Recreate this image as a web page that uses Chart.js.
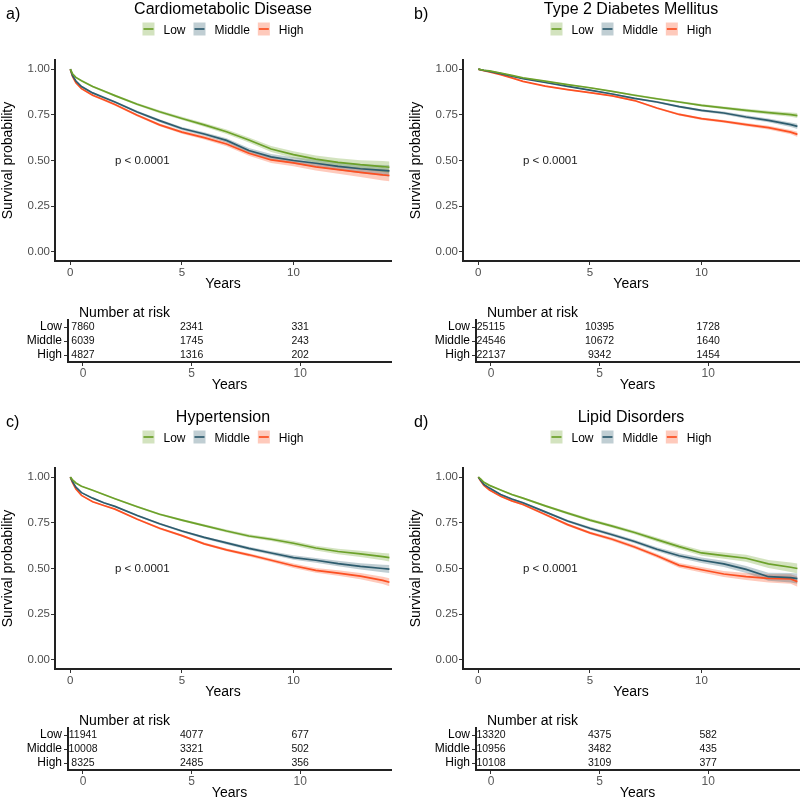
<!DOCTYPE html>
<html>
<head>
<meta charset="utf-8">
<script src="https://cdn.jsdelivr.net/npm/chart.js@4.4.0/dist/chart.umd.min.js"></script>
<style>
    html, body { margin: 0; padding: 0; background: #fff; overflow: hidden; }
    #contenedor { position: relative; width: 800px; height: 799px; overflow: hidden; }
    canvas { position: absolute; }
</style>
</head>
<body>
<div id="contenedor"></div>
<script>
// DATOS
const grupos = ['Low', 'Middle', 'High']
const colores = ['#6ca12a', '#2d5c6e', '#fc5022']
const tiempos = [0, 0.1, 0.25, 0.5, 1, 1.5, 2, 3, 4, 5, 6, 7, 8, 9, 10, 11, 12, 13, 14, 14.3]
const ticksX = [0, 5, 10]
const ticksY = [0, 0.25, 0.5, 0.75, 1]
const tiemposRiesgo = [0, 5, 10]

// a) Cardiometabolic Disease
const supBajoA = [1, 0.975, 0.955, 0.937, 0.905, 0.88, 0.855, 0.808, 0.767, 0.73, 0.695, 0.657, 0.612, 0.563, 0.532, 0.508, 0.49, 0.477, 0.467, 0.463]
const supMedioA = [1, 0.965, 0.935, 0.905, 0.87, 0.845, 0.82, 0.765, 0.718, 0.675, 0.645, 0.61, 0.555, 0.52, 0.5, 0.485, 0.468, 0.455, 0.446, 0.443]
const supAltoA = [1, 0.96, 0.925, 0.893, 0.857, 0.832, 0.806, 0.748, 0.695, 0.655, 0.625, 0.59, 0.54, 0.503, 0.487, 0.465, 0.45, 0.435, 0.421, 0.418]
const icA = [0, 0.003, 0.004, 0.005, 0.005, 0.006, 0.006, 0.007, 0.008, 0.009, 0.01, 0.012, 0.014, 0.016, 0.018, 0.02, 0.022, 0.025, 0.03, 0.032]
const riesgoBajoA = [7860, 2341, 331]
const riesgoMedioA = [6039, 1745, 243]
const riesgoAltoA = [4827, 1316, 202]

// b) Type 2 Diabetes Mellitus
const supBajoB = [1, 0.997, 0.994, 0.99, 0.979, 0.966, 0.953, 0.934, 0.915, 0.898, 0.878, 0.857, 0.838, 0.82, 0.802, 0.788, 0.774, 0.762, 0.751, 0.746]
const supMedioB = [1, 0.997, 0.993, 0.988, 0.975, 0.962, 0.948, 0.927, 0.906, 0.885, 0.864, 0.84, 0.82, 0.795, 0.774, 0.76, 0.738, 0.72, 0.696, 0.687]
const supAltoB = [1, 0.996, 0.991, 0.985, 0.97, 0.952, 0.933, 0.907, 0.888, 0.871, 0.854, 0.828, 0.787, 0.752, 0.729, 0.714, 0.696, 0.68, 0.655, 0.643]
const icB = [0, 0.001, 0.001, 0.001, 0.002, 0.002, 0.002, 0.003, 0.003, 0.004, 0.004, 0.005, 0.005, 0.006, 0.007, 0.008, 0.009, 0.01, 0.012, 0.014]
const riesgoBajoB = [25115, 10395, 1728]
const riesgoMedioB = [24546, 10672, 1640]
const riesgoAltoB = [22137, 9342, 1454]

// c) Hypertension
const supBajoC = [1, 0.985, 0.968, 0.95, 0.928, 0.905, 0.882, 0.838, 0.797, 0.765, 0.735, 0.705, 0.678, 0.66, 0.638, 0.612, 0.593, 0.58, 0.565, 0.56]
const supMedioC = [1, 0.975, 0.945, 0.915, 0.885, 0.86, 0.84, 0.79, 0.745, 0.705, 0.67, 0.64, 0.61, 0.585, 0.56, 0.545, 0.527, 0.512, 0.5, 0.497]
const supAltoC = [1, 0.97, 0.935, 0.9, 0.865, 0.845, 0.825, 0.77, 0.72, 0.68, 0.635, 0.602, 0.575, 0.545, 0.515, 0.49, 0.475, 0.458, 0.435, 0.425]
const icC = [0, 0.002, 0.003, 0.003, 0.004, 0.004, 0.004, 0.005, 0.006, 0.006, 0.007, 0.008, 0.009, 0.01, 0.012, 0.013, 0.015, 0.017, 0.02, 0.022]
const riesgoBajoC = [11941, 4077, 677]
const riesgoMedioC = [10008, 3321, 502]
const riesgoAltoC = [8325, 2485, 356]

// d) Lipid Disorders
const supBajoD = [1, 0.99, 0.972, 0.955, 0.93, 0.905, 0.885, 0.843, 0.803, 0.765, 0.732, 0.697, 0.658, 0.62, 0.585, 0.57, 0.556, 0.525, 0.507, 0.5]
const supMedioD = [1, 0.985, 0.96, 0.94, 0.905, 0.88, 0.86, 0.81, 0.76, 0.72, 0.685, 0.648, 0.605, 0.57, 0.545, 0.525, 0.495, 0.455, 0.45, 0.445]
const supAltoD = [1, 0.98, 0.955, 0.93, 0.895, 0.87, 0.85, 0.795, 0.74, 0.695, 0.66, 0.618, 0.57, 0.517, 0.493, 0.47, 0.456, 0.446, 0.443, 0.428]
const icD = [0, 0.002, 0.003, 0.004, 0.004, 0.005, 0.005, 0.006, 0.007, 0.008, 0.009, 0.01, 0.011, 0.013, 0.015, 0.017, 0.019, 0.022, 0.026, 0.028]
const riesgoBajoD = [13320, 4375, 582]
const riesgoMedioD = [10956, 3482, 435]
const riesgoAltoD = [10108, 3109, 377]

const textoP = 'p < 0.0001'
const coordP = [2, 0.5]

// FUNCIONES
const fuente = '"Liberation Sans", Arial, Helvetica, sans-serif'
Chart.defaults.font.family = fuente

function conAlfa(hex, alfa) {
    const r = parseInt(hex.slice(1, 3), 16)
    const g = parseInt(hex.slice(3, 5), 16)
    const b = parseInt(hex.slice(5, 7), 16)
    return `rgba(${r}, ${g}, ${b}, ${alfa})`
}

function crearCanvas(izq, arriba, ancho, alto) {
    const c = document.createElement('canvas')
    c.width = ancho
    c.height = alto
    c.style.left = izq + 'px'
    c.style.top = arriba + 'px'
    c.style.width = ancho + 'px'
    c.style.height = alto + 'px'
    document.getElementById('contenedor').appendChild(c)
    return c
}

// titulo, letra, leyenda y valor p (dibujados a mano)
const decoracionPanel = {
    id: 'decoracionPanel',
    afterDraw(chart, args, opts) {
        const ctx = chart.ctx
        const area = chart.chartArea
        const centro = (area.left + area.right) / 2
        ctx.save()
        ctx.fillStyle = '#000'
        ctx.textBaseline = 'alphabetic'
        ctx.font = `16px ${fuente}`
        ctx.textAlign = 'left'
        ctx.fillText(opts.letra, 6, 19)
        ctx.textAlign = 'center'
        ctx.fillText(opts.titulo, centro, 13.5)

        ctx.font = `12px ${fuente}`
        const anchos = grupos.map(g => ctx.measureText(g).width)
        const total = anchos.reduce((acum, w) => acum + 12 + 9 + w, 0) + 8 * (grupos.length - 1)
        let x = centro - total / 2
        grupos.forEach((g, i) => {
            ctx.fillStyle = conAlfa(colores[i], 0.3)
            ctx.fillRect(x, 22.5, 12, 13)
            ctx.strokeStyle = colores[i]
            ctx.lineWidth = 1.7
            ctx.beginPath()
            ctx.moveTo(x + 1, 29)
            ctx.lineTo(x + 11, 29)
            ctx.stroke()
            ctx.fillStyle = '#000'
            ctx.textAlign = 'left'
            ctx.fillText(g, x + 21, 33.5)
            x += 12 + 9 + anchos[i] + 8
        })

        ctx.font = `11.5px ${fuente}`
        ctx.fillStyle = '#1a1a1a'
        ctx.textAlign = 'left'
        ctx.textBaseline = 'middle'
        ctx.fillText(textoP, chart.scales.x.getPixelForValue(coordP[0]), chart.scales.y.getPixelForValue(coordP[1]))
        ctx.restore()
    }
}

// numeros de la tabla de riesgo en la posicion de cada punto
const tablaRiesgo = {
    id: 'tablaRiesgo',
    afterDraw(chart) {
        const ctx = chart.ctx
        ctx.save()
        ctx.fillStyle = '#000'
        ctx.font = `14px ${fuente}`
        ctx.textAlign = 'left'
        ctx.textBaseline = 'alphabetic'
        ctx.fillText('Number at risk', chart.chartArea.left + 11, 17)
        ctx.font = `10.5px ${fuente}`
        ctx.fillStyle = '#111'
        ctx.textAlign = 'center'
        ctx.textBaseline = 'middle'
        chart.data.datasets.forEach((ds, i) => {
            const meta = chart.getDatasetMeta(i)
            meta.data.forEach((el, k) => {
                ctx.fillText(String(ds.numeros[k]), el.x, el.y + 0.5)
            })
        })
        ctx.restore()
    }
}

function ejeX(min, max, alto, tamTicks, colorTicks, relleno) {
    return {
        type: 'linear',
        min: min,
        max: max,
        afterBuildTicks: (s) => { s.ticks = ticksX.map(v => ({ value: v })) },
        afterFit: (s) => { s.height = alto },
        grid: { display: true, drawOnChartArea: false, drawTicks: true, tickLength: 4, color: '#333', lineWidth: 1 },
        border: { display: true, color: '#222', width: 2 },
        ticks: { font: { size: tamTicks }, color: colorTicks, padding: relleno, maxRotation: 0, autoSkip: false },
        title: { display: true, text: 'Years', font: { size: 14 }, color: '#000', padding: 0 },
    }
}

function graficarCurvas(p) {
    const canvas = crearCanvas(p.izq, p.arriba, 392, 293)
    const datasets = []
    p.curvas.forEach((valores, i) => {
        datasets.push({
            label: grupos[i],
            data: tiempos.map((t, k) => ({ x: t, y: valores[k] })),
            borderColor: colores[i],
            borderWidth: 1.7,
            pointRadius: 0,
            fill: false,
            order: 0,
        })
        datasets.push({
            label: grupos[i] + ' sup',
            data: tiempos.map((t, k) => ({ x: t, y: valores[k] + p.ic[k] })),
            borderColor: 'rgba(0,0,0,0)',
            borderWidth: 0,
            pointRadius: 0,
            fill: false,
            order: 1,
        })
        datasets.push({
            label: grupos[i] + ' inf',
            data: tiempos.map((t, k) => ({ x: t, y: valores[k] - p.ic[k] })),
            borderColor: 'rgba(0,0,0,0)',
            borderWidth: 0,
            backgroundColor: conAlfa(colores[i], 0.3),
            pointRadius: 0,
            fill: '-1',
            order: 1,
        })
    })

    new Chart(canvas, {
        type: 'line',
        data: { datasets: datasets },
        plugins: [decoracionPanel],
        options: {
            responsive: false,
            animation: false,
            devicePixelRatio: 1,
            layout: { padding: { top: 60, right: 1, left: 0, bottom: 0 } },
            plugins: {
                legend: { display: false },
                tooltip: { enabled: false },
                decoracionPanel: { letra: p.letra, titulo: p.titulo },
            },
            scales: {
                x: ejeX(-0.686, 14.37, 32, 11.5, '#4d4d4d', 1),
                y: {
                    min: -0.05,
                    max: 1.05,
                    afterBuildTicks: (s) => { s.ticks = ticksY.map(v => ({ value: v })) },
                    afterFit: (s) => { s.width = 55 },
                    grid: { display: true, drawOnChartArea: false, drawTicks: true, tickLength: 4, color: '#333', lineWidth: 1 },
                    border: { display: true, color: '#222', width: 2 },
                    ticks: { font: { size: 11.5 }, color: '#4d4d4d', padding: 1, callback: v => v.toFixed(2) },
                    title: { display: true, text: 'Survival probability', font: { size: 14 }, color: '#000', padding: 0 },
                },
            },
        },
    })
}

function graficarRiesgo(p) {
    const canvas = crearCanvas(p.izq, p.arriba + 300, 392, 94)
    const datasets = p.riesgo.map((numeros, i) => ({
        label: grupos[i],
        data: tiemposRiesgo.map(t => ({ x: t, y: grupos[i] })),
        numeros: numeros,
        pointRadius: 0,
    }))

    new Chart(canvas, {
        type: 'scatter',
        data: { datasets: datasets },
        plugins: [tablaRiesgo],
        options: {
            responsive: false,
            animation: false,
            devicePixelRatio: 1,
            layout: { padding: { top: 20, right: 1, left: 0, bottom: 0 } },
            plugins: { legend: { display: false }, tooltip: { enabled: false } },
            scales: {
                x: ejeX(-0.69, 14.18, 32, 12, '#5a5a5a', 0.5),
                y: {
                    type: 'category',
                    labels: grupos,
                    offset: true,
                    afterFit: (s) => { s.width = 68 },
                    grid: { display: true, offset: false, drawOnChartArea: false, drawTicks: true, tickLength: 4, color: '#333', lineWidth: 1 },
                    border: { display: true, color: '#222', width: 2 },
                    ticks: { font: { size: 12 }, color: '#000', padding: 2, autoSkip: false },
                },
            },
        },
    })
}

// EJECUCIÓN DEL PROGRAMA
const paneles = [
    { letra: 'a)', titulo: 'Cardiometabolic Disease', izq: 0, arriba: 0, curvas: [supBajoA, supMedioA, supAltoA], ic: icA, riesgo: [riesgoBajoA, riesgoMedioA, riesgoAltoA] },
    { letra: 'b)', titulo: 'Type 2 Diabetes Mellitus', izq: 408, arriba: 0, curvas: [supBajoB, supMedioB, supAltoB], ic: icB, riesgo: [riesgoBajoB, riesgoMedioB, riesgoAltoB] },
    { letra: 'c)', titulo: 'Hypertension', izq: 0, arriba: 408, curvas: [supBajoC, supMedioC, supAltoC], ic: icC, riesgo: [riesgoBajoC, riesgoMedioC, riesgoAltoC] },
    { letra: 'd)', titulo: 'Lipid Disorders', izq: 408, arriba: 408, curvas: [supBajoD, supMedioD, supAltoD], ic: icD, riesgo: [riesgoBajoD, riesgoMedioD, riesgoAltoD] },
]

paneles.forEach(p => {
    graficarCurvas(p)
    graficarRiesgo(p)
})
</script>
</body>
</html>
